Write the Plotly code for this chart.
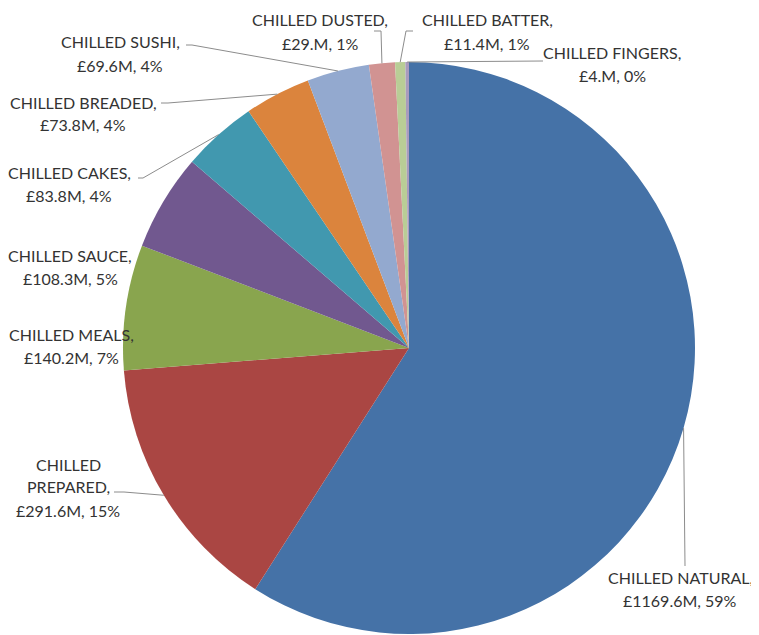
import math
import plotly.graph_objects as go

categories = ["CHILLED NATURAL", "CHILLED PREPARED", "CHILLED MEALS", "CHILLED SAUCE",
              "CHILLED CAKES", "CHILLED BREADED", "CHILLED SUSHI", "CHILLED DUSTED",
              "CHILLED BATTER", "CHILLED FINGERS"]
values = [1169.6, 291.6, 140.2, 108.3, 83.8, 73.8, 69.6, 29.0, 11.4, 4.0]
value_labels = ["£1169.6M", "£291.6M", "£140.2M", "£108.3M", "£83.8M", "£73.8M",
                "£69.6M", "£29.M", "£11.4M", "£4.M"]
colors = ["#4572A7", "#AA4643", "#89A54E", "#71588F", "#4198AF", "#DB843D",
          "#93A9CF", "#D19392", "#B9CD96", "#A99BBD"]

# page body has an 8px margin: figure drawn in the remaining area
OFF = 8
W, H = 759 - OFF, 635 - OFF
CX, CY, R = 409, 348, 286  # in reference-window pixels
LINE_GAP = 23

# label: centre x and first-line centre y (reference pixels), leader-line anchor/elbow points
label_pos = [(680, 577), (68, 464), (71, 334), (70, 255), (69, 173),
             (83, 102), (120, 42), (320, 20), (487, 20), (612, 52)]
leader_start = [[(685, 566)], [(114, 492), (124, 492)], None, None,
                [(138, 178), (143, 178)], [(161, 103), (168, 103)],
                [(186, 45), (192, 45)], [(374, 31), (381, 31)],
                [(413, 31), (406, 31)], [(543, 61)]]

def px(x):
    return (x - OFF) / W

def py(y):
    return 1 - (y - OFF) / H

total = sum(values)
pcts = [round(v / total * 100) for v in values]

fig = go.Figure(go.Pie(
    labels=categories, values=values, sort=False, direction="clockwise",
    rotation=0, textinfo="none", hoverinfo="label+value+percent",
    marker=dict(colors=colors, line=dict(width=0)),
    domain=dict(x=[px(CX - R), px(CX + R)], y=[py(CY + R), py(CY - R)]),
    showlegend=False,
))

annotations = []
shapes = []
cum = 0.0
for i, (cat, v) in enumerate(zip(categories, values)):
    mid = (cum + v / 2) / total * 2 * math.pi
    cum += v
    ex = CX + R * math.sin(mid)
    ey = CY - R * math.cos(mid)
    lx, ly = label_pos[i]
    if cat == "CHILLED PREPARED":
        lines = ["CHILLED", "PREPARED,"]
    else:
        lines = [f"{cat},"]
    lines.append(f"{value_labels[i]}, {pcts[i]}%")
    for k, t in enumerate(lines):
        annotations.append(dict(
            x=px(lx), y=py(ly + k * LINE_GAP), xref="paper", yref="paper", text=t,
            showarrow=False, align="center", xanchor="center", yanchor="middle",
            font=dict(family="Lato, Liberation Sans, Arial", size=16, color="#333333"),
        ))
    if leader_start[i]:
        pts = leader_start[i] + [(ex, ey)]
        path = "M " + " L ".join(f"{px(a)},{py(b)}" for a, b in pts)
        shapes.append(dict(type="path", xref="paper", yref="paper", path=path,
                           line=dict(color="#8C8C8C", width=1)))

fig.update_layout(
    width=W, height=H, margin=dict(l=0, r=0, t=0, b=0),
    paper_bgcolor="white", plot_bgcolor="white",
    annotations=annotations, shapes=shapes,
)

fig.write_html("out.html")
